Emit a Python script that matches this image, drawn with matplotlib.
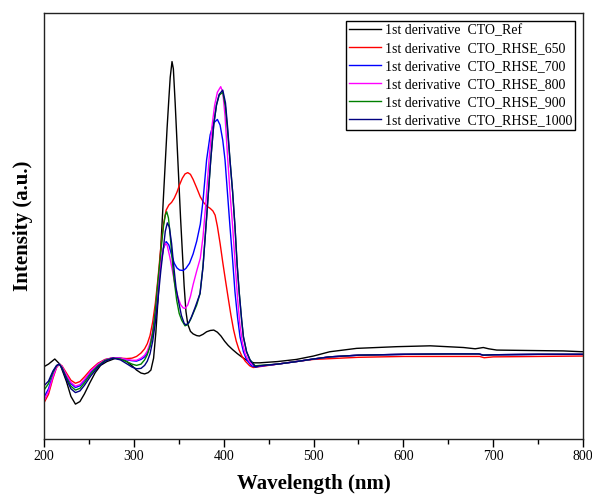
import numpy as np
import matplotlib
matplotlib.use('Agg')
import matplotlib.pyplot as plt
from matplotlib.ticker import MultipleLocator

plt.rcParams['font.family'] = ['Liberation Serif', 'DejaVu Serif']

# values (arbitrary units, 0 = bottom of frame, 100 = top)
ref_wl = [200, 205, 212, 218, 225, 230, 235, 240, 245, 251, 257, 263, 270, 280, 287, 292,
          298, 303, 308, 312, 316, 319, 322, 324.5, 327, 329, 331, 333, 335, 337, 339, 340.5,
          342.5, 344, 346, 348, 350, 352, 354, 356, 358, 360, 363, 366, 370, 373, 377, 381,
          385, 389, 393, 397, 401, 405, 410, 415, 420, 425, 430, 434, 440, 460, 481, 500,
          518, 548, 593, 630, 667, 680, 689, 695, 704, 740, 778, 800]
ref_val = [17.0, 17.6, 18.8, 17.5, 13.5, 10.0, 8.2, 8.8, 10.6, 13.2, 15.6, 17.3, 18.2, 19.0, 18.7, 18.2,
           17.2, 16.2, 15.5, 15.3, 15.6, 16.2, 19.0, 25.0, 33.0, 41.0, 49.0, 57.0, 65.0, 73.0, 80.0, 85.0,
           88.7, 87.0, 79.0, 70.0, 61.0, 52.0, 44.0, 36.0, 30.0, 27.0, 25.3, 24.7, 24.3, 24.2, 24.6, 25.2,
           25.5, 25.6, 25.1, 24.2, 23.0, 22.0, 21.0, 20.1, 19.3, 18.6, 18.1, 17.9, 17.9, 18.2, 18.7, 19.5,
           20.5, 21.3, 21.7, 21.9, 21.5, 21.2, 21.5, 21.2, 20.9, 20.8, 20.7, 20.5]

s650_wl = [200, 205, 210, 214, 217, 220, 225, 230, 235, 240, 245, 252, 260, 268, 277, 285,
           292, 298, 303, 308, 312, 315, 318, 321, 324, 327, 330, 333, 336, 339, 342, 345,
           348, 351, 354, 357, 360, 363, 366, 370, 374, 378, 382, 385, 388, 390.5, 393, 396,
           399, 402, 405, 408, 411, 414, 417, 420, 424, 429, 433, 440, 460, 480, 500, 550,
           600, 650, 685, 690, 700, 750, 800]
s650_val = [8.5, 10.5, 14.3, 16.8, 17.6, 17.2, 15.5, 13.8, 13.1, 13.5, 14.6, 16.3, 17.8, 18.7, 19.1, 19.0,
            18.9, 19.0, 19.4, 20.2, 21.2, 22.4, 24.3, 27.5, 32.0, 38.0, 45.0, 50.5, 53.8, 55.0, 55.6, 56.6,
            58.0, 59.8, 61.3, 62.3, 62.6, 62.2, 61.0, 59.0, 56.9, 55.5, 54.6, 54.2, 53.6, 52.6, 50.0, 46.0,
            41.5, 37.3, 33.2, 29.2, 25.7, 23.0, 21.0, 19.6, 18.3, 17.2, 16.8, 17.0, 17.6, 18.2, 18.7, 19.2,
            19.4, 19.4, 19.4, 19.1, 19.3, 19.4, 19.5]

# common flat tail of the annealed samples above 440 nm
tail_wl = [460, 481, 500, 518, 550, 600, 650, 684, 689, 700, 750, 800]
tail_val = [17.6, 18.2, 18.8, 19.3, 19.7, 19.9, 20.0, 20.0, 19.7, 19.8, 19.9, 19.9]

s700_wl = [200, 205, 210, 214, 217, 220, 225, 230, 235, 240, 245, 252, 260, 268, 277, 285,
           292, 298, 303, 308, 312, 315, 318, 321, 324, 327, 330, 333, 336, 339, 342, 345,
           348, 351, 355, 358, 362, 366, 370, 374, 377, 381, 385, 389, 393, 396, 399, 401.5,
           404, 407, 410, 412.6, 415.5, 418.2, 422, 425.6, 431, 436, 440]
s700_val = [9.8, 11.8, 15.0, 17.0, 17.6, 17.0, 14.8, 13.0, 12.1, 12.5, 13.7, 15.7, 17.5, 18.6, 19.1, 19.0,
            18.6, 18.4, 18.3, 18.7, 19.3, 20.2, 21.8, 24.5, 29.0, 35.0, 41.0, 44.8, 46.4, 45.6, 43.3, 41.3,
            40.2, 39.7, 39.6, 40.1, 41.3, 43.5, 46.5, 50.5, 56.0, 65.6, 71.5, 74.3, 75.1, 73.8, 70.2, 65.6,
            58.5, 50.0, 42.0, 34.5, 28.5, 24.0, 20.5, 18.6, 17.2, 16.9, 17.1]

s800_wl = [200, 205, 210, 214, 217, 220, 225, 230, 235, 240, 245, 252, 260, 268, 277, 285,
           292, 298, 303, 308, 312, 315, 318, 321, 324, 327, 330, 333, 335, 337, 340, 343,
           346, 349, 352, 355, 357, 360, 363, 366, 370, 374, 377, 380, 383.7, 387, 390, 393,
           396.7, 399, 401.5, 404, 407, 410, 413, 415.5, 418, 421, 424, 427.5, 431, 435, 440]
s800_val = [9.0, 11.2, 14.6, 16.9, 17.6, 17.1, 15.1, 13.3, 12.4, 12.8, 14.0, 16.0, 17.6, 18.6, 19.1, 19.0,
            18.7, 18.5, 18.5, 19.0, 19.7, 20.7, 22.5, 25.5, 30.0, 36.0, 41.5, 45.0, 46.0, 45.6, 42.8, 39.5,
            36.0, 33.4, 31.6, 30.8, 30.7, 31.5, 33.5, 36.3, 39.5, 42.5, 47.5, 55.0, 65.6, 73.5, 78.5, 81.5,
            82.8, 81.5, 76.0, 67.5, 58.0, 49.9, 40.5, 33.0, 27.0, 22.5, 20.0, 18.5, 17.6, 17.2, 17.2]

s900_wl = [200, 205, 210, 214, 217, 220, 225, 230, 235, 240, 245, 252, 260, 268, 277, 285,
           292, 298, 303, 308, 312, 315, 318, 321, 324, 327, 330, 333, 335, 336.6, 338.5, 340,
           342, 344.5, 347.7, 350.5, 353.3, 357, 360, 363, 366, 370, 373.7, 377, 381, 385.6, 389, 392,
           395, 399, 402, 404.5, 407, 410, 412.6, 415, 417.4, 420, 422, 425.5, 429.3, 435, 440]
s900_val = [11.5, 13.0, 15.7, 17.2, 17.6, 16.8, 14.4, 12.4, 11.5, 11.9, 13.2, 15.3, 17.2, 18.5, 19.0, 18.8,
            18.2, 17.6, 17.3, 17.6, 18.6, 19.8, 21.8, 25.0, 30.5, 37.5, 44.0, 50.0, 52.6, 53.4, 52.0, 49.0,
            44.0, 38.0, 32.6, 29.5, 27.9, 26.6, 26.9, 28.0, 29.5, 31.5, 34.2, 40.5, 52.0, 65.6, 74.0, 78.5,
            80.8, 81.5, 78.0, 72.0, 65.6, 58.0, 49.9, 41.0, 34.2, 28.0, 24.0, 20.5, 18.6, 17.2, 17.3]

s1000_wl = [200, 205, 210, 214, 217, 220, 225, 230, 235, 240, 245, 252, 260, 268, 277, 285,
            292, 298, 303, 308, 312, 315, 318, 321, 324, 327, 330, 333, 335, 337.3, 339.5, 342,
            344.5, 347, 349.5, 353, 356, 358, 361, 364, 368, 373.7, 377, 381, 385.6, 389, 392, 395,
            399, 402, 404.5, 407, 410, 412.6, 415, 417.4, 420, 422, 425.5, 429.3, 435, 440]
s1000_val = [12.5, 13.6, 16.0, 17.3, 17.6, 16.6, 14.0, 11.8, 10.9, 11.3, 12.6, 14.8, 16.9, 18.3, 19.0, 18.6,
             17.7, 16.9, 16.5, 16.6, 17.3, 18.3, 20.0, 23.0, 27.5, 33.0, 39.5, 45.0, 48.8, 50.8, 49.8, 46.0,
             40.5, 35.5, 32.6, 29.0, 27.2, 26.8, 27.3, 28.6, 30.8, 34.2, 40.5, 52.0, 65.6, 74.0, 78.5, 81.0,
             82.0, 79.0, 73.0, 65.6, 58.0, 49.9, 41.0, 34.2, 28.0, 24.0, 20.5, 18.6, 17.0, 17.2]

labels = ['1st derivative  CTO_Ref', '1st derivative  CTO_RHSE_650', '1st derivative  CTO_RHSE_700',
          '1st derivative  CTO_RHSE_800', '1st derivative  CTO_RHSE_900', '1st derivative  CTO_RHSE_1000']
colors = ['#000000', '#FF0000', '#0000FF', '#FF00FF', '#008000', '#000080']

series = [
    (ref_wl, ref_val),
    (s650_wl, s650_val),
    (s700_wl + tail_wl, s700_val + tail_val),
    (s800_wl + tail_wl, s800_val + tail_val),
    (s900_wl + tail_wl, s900_val + tail_val),
    (s1000_wl + tail_wl, s1000_val + tail_val),
]

fig = plt.figure(figsize=(5.92, 4.98), dpi=100)
ax = fig.add_axes([44 / 592, 59 / 498, 539 / 592, 425.5 / 498])

for (wl, val), lab, col in zip(series, labels, colors):
    ax.plot(wl, val, color=col, linewidth=1.0, label=lab)

ax.set_xlim(200, 800)
ax.set_ylim(0, 100)
ax.set_yticks([])
ax.xaxis.set_major_locator(MultipleLocator(100))
ax.xaxis.set_minor_locator(MultipleLocator(50))
ax.tick_params(axis='x', which='major', direction='out', length=6, width=1, labelsize=10, pad=2)
ax.tick_params(axis='x', which='minor', direction='out', length=3.5, width=1)
for sp in ax.spines.values():
    sp.set_linewidth(1.0)
    sp.set_color('#222222')

ax.set_xlabel('Wavelength (nm)', fontsize=15, fontweight='bold', labelpad=8)
ax.set_ylabel('Intensity (a.u.)', fontsize=15, fontweight='bold', labelpad=8)

leg = ax.legend(loc='upper right', fontsize=10, frameon=True, fancybox=False,
                edgecolor='black', framealpha=1, labelspacing=0.36, handlelength=2.3,
                handletextpad=0.3, borderpad=0.2, borderaxespad=0.55)
leg.get_frame().set_linewidth(1.0)

fig.savefig('out.png', dpi=100)
